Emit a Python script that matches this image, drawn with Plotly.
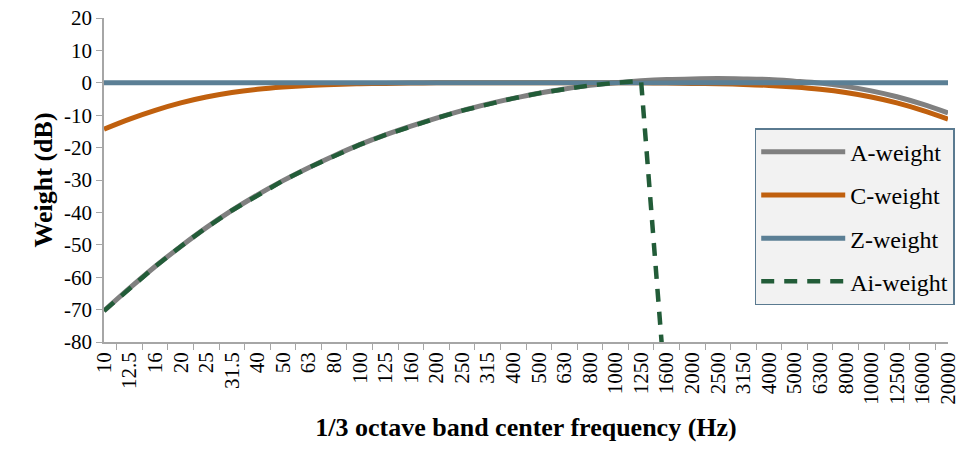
import plotly.graph_objects as go

freqs = ["10", "12.5", "16", "20", "25", "31.5", "40", "50", "63", "80", "100", "125",
         "160", "200", "250", "315", "400", "500", "630", "800", "1000", "1250", "1600",
         "2000", "2500", "3150", "4000", "5000", "6300", "8000", "10000", "12500",
         "16000", "20000"]

a_weight = [-70.4, -63.4, -56.7, -50.5, -44.7, -39.4, -34.6, -30.2, -26.2, -22.5, -19.1,
            -16.1, -13.4, -10.9, -8.6, -6.6, -4.8, -3.2, -1.9, -0.8, 0.0, 0.6, 1.0, 1.2,
            1.3, 1.2, 1.0, 0.5, -0.1, -1.1, -2.5, -4.3, -6.6, -9.3]
c_weight = [-14.3, -11.2, -8.5, -6.2, -4.4, -3.0, -2.0, -1.3, -0.8, -0.5, -0.3, -0.2,
            -0.1, 0.0, 0.0, 0.0, 0.0, 0.0, 0.0, 0.0, 0.0, 0.0, -0.1, -0.2, -0.3, -0.5,
            -0.8, -1.3, -2.0, -3.0, -4.4, -6.2, -8.5, -11.2]
z_weight = [0.0] * 34
ai_weight = [-70.4, -63.4, -56.7, -50.5, -44.7, -39.4, -34.6, -30.2, -26.2, -22.5, -19.1,
             -16.1, -13.4, -10.9, -8.6, -6.6, -4.8, -3.2, -1.9, -0.8, 0.0, 0.6, -100.0,
             None, None, None, None, None, None, None, None, None, None, None]

y_tickvals = [-80, -70, -60, -50, -40, -30, -20, -10, 0, 10, 20]
y_ticktext = ["-80", "-70", "-60", "-50", "-40", "-30", "-20", "-10", "0", "10", "20"]

FONT = "Liberation Serif"

fig = go.Figure()
fig.add_trace(go.Scatter(x=freqs, y=a_weight, name="A-weight", mode="lines", legendgroup="a",
                         line=dict(color="#808080", width=5, shape="spline")))
fig.add_trace(go.Scatter(x=freqs, y=c_weight, name="C-weight", mode="lines", legendgroup="c",
                         line=dict(color="#c0600e", width=5, shape="spline")))
fig.add_trace(go.Scatter(x=freqs, y=z_weight, name="Z-weight", mode="lines", legendgroup="z",
                         line=dict(color="#5b7f95", width=5)))
fig.add_trace(go.Scatter(x=freqs, y=ai_weight, name="Ai-weight", mode="lines", legendgroup="ai",
                         line=dict(color="#225c38", width=4.5, dash="13px,10px")))

fig.update_layout(
    width=965, height=452,
    margin=dict(l=104, r=5, t=18, b=110),
    paper_bgcolor="white", plot_bgcolor="white",
    font=dict(family=FONT, size=21, color="#000000"),
    showlegend=True,
    legend=dict(x=0.771, y=0.66, xanchor="left", yanchor="top",
                bgcolor="#f2f2f2", bordercolor="#5a7a90", borderwidth=1.5,
                font=dict(family=FONT, size=24), itemwidth=84,
                tracegroupgap=9),
    xaxis=dict(
        type="category", categoryorder="array", categoryarray=freqs,
        tickangle=-90, tickson="boundaries", ticks="outside", ticklen=6,
        tickcolor="#a6a6a6", showline=True, linecolor="#a6a6a6", linewidth=1.5,
        showgrid=False, zeroline=False,
        tickfont=dict(family=FONT, size=21),
        title=dict(text="<b>1/3 octave band center frequency (Hz)</b>",
                   font=dict(family=FONT, size=26), standoff=14),
    ),
    yaxis=dict(
        range=[-80, 20], tickmode="array", tickvals=y_tickvals, ticktext=y_ticktext,
        ticks="outside", ticklen=6,
        tickcolor="#a6a6a6", showline=True, linecolor="#a6a6a6", linewidth=1.5,
        showgrid=False, zeroline=False,
        tickfont=dict(family=FONT, size=21),
        title=dict(text="<b>Weight (dB)</b>", font=dict(family=FONT, size=26),
                   standoff=4),
    ),
)

fig.write_html("out.html")
